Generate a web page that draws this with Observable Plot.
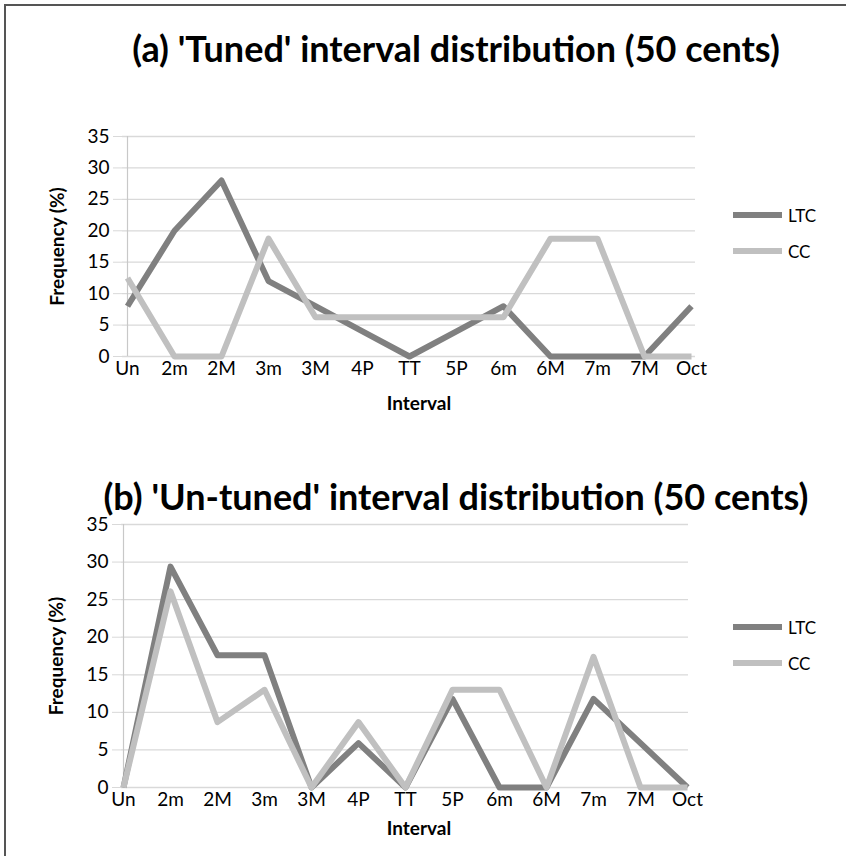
<!DOCTYPE html>
<html>
<head>
<meta charset="utf-8">
<script src="https://cdn.jsdelivr.net/npm/d3@7"></script>
<script src="https://cdn.jsdelivr.net/npm/@observablehq/plot@0.6"></script>
<style>
  html, body { margin: 0; padding: 0; background: #fff; }
  #page { position: relative; width: 846px; height: 856px; overflow: hidden; font-family: Lato, "Open Sans", sans-serif; }
  .frame { position: absolute; left: 4px; top: 4px; width: 850px; height: 860px; border-left: 2px solid #555; border-top: 2px solid #555; box-sizing: border-box; }
  .panel { position: absolute; left: 0; }
  .title { position: absolute; left: 0; width: 912px; text-align: center; font-weight: bold; font-size: 36px; line-height: 1; color: #000; white-space: nowrap; }
  .leg { position: absolute; font-size: 17px; color: #000; display: flex; align-items: center; }
  .sw { width: 49px; height: 6px; margin-right: 6px; }
</style>
</head>
<body>
<div id="page"></div>
<script>
const intervals = ["Un","2m","2M","3m","3M","4P","TT","5P","6m","6M","7m","7M","Oct"];
const series = ["LTC","CC"];
const seriesColors = ["#808080","#c0c0c0"];
const yTicks = [0,5,10,15,20,25,30,35];

const tunedLTC = [8,20,28,12,8,4,0,4,8,0,0,0,8];
const tunedCC = [12.5,0,0,18.75,6.25,6.25,6.25,6.25,6.25,18.75,18.75,0,0];
const untunedLTC = [0,29.4,17.6,17.6,0,5.9,0,11.8,0,0,11.8,5.9,0];
const untunedCC = [0,26.1,8.7,13.0,0,8.7,0,13.0,13.0,0,17.4,0,0];

const titles = ["(a) 'Tuned' interval distribution (50 cents)", "(b) 'Un-tuned' interval distribution (50 cents)"];
const xLabel = "Interval";
const yLabel = "Frequency (%)";

const page = document.getElementById("page");
const frame = document.createElement("div");
frame.className = "frame";
page.appendChild(frame);

function makePanel(ltc, cc, cfg) {
  const data = intervals.flatMap((k, i) => [
    {interval: k, series: series[0], value: ltc[i]},
    {interval: k, series: series[1], value: cc[i]}
  ]);
  return Plot.plot({
    width: 846,
    height: cfg.height,
    marginLeft: cfg.ml,
    marginRight: cfg.mr,
    marginTop: cfg.mt,
    marginBottom: cfg.mb,
    style: {fontFamily: "Lato, 'Open Sans', sans-serif", fontSize: "19px", color: "#000", background: "transparent", overflow: "visible"},
    x: {type: "point", domain: intervals, padding: 0},
    y: {domain: [0, 35]},
    color: {domain: series, range: seriesColors},
    marks: [
      Plot.gridY(yTicks, {stroke: "#d9d9d9", strokeOpacity: 1, strokeWidth: 1.3}),
      Plot.axisY(yTicks, {tickSize: 9, tickPadding: 4, stroke: "#d9d9d9", strokeOpacity: 1, label: null, fontSize: 19, fill: "#000"}),
      Plot.axisX(intervals, {tickSize: 0, tickPadding: 5, label: null, fontSize: 19, fill: "#000"}),
      Plot.ruleX([intervals[0]], {stroke: "#c8c8c8", strokeWidth: 1.2}),
      Plot.line(data, {x: "interval", y: "value", z: "series", stroke: "series", strokeWidth: 6, strokeLinejoin: "round", strokeLinecap: "butt"}),
      Plot.text([yLabel], {text: d => d, frameAnchor: "left", rotate: -90, dx: -65, textAnchor: "middle", lineAnchor: "middle", fontWeight: "bold", fontSize: 19, fill: "#000"}),
      Plot.text([xLabel], {text: d => d, frameAnchor: "bottom", dx: cfg.lx, dy: cfg.ly, textAnchor: "middle", lineAnchor: "middle", fontWeight: "bold", fontSize: 19, fill: "#000"})
    ]
  });
}

function addPanel(top, ltc, cc, cfg, titleText, titleY, legY) {
  const svg = makePanel(ltc, cc, cfg);
  const wrap = document.createElement("div");
  wrap.className = "panel";
  wrap.style.top = top + "px";
  wrap.appendChild(svg);
  page.appendChild(wrap);

  const t = document.createElement("div");
  t.className = "title";
  t.style.top = titleY + "px";
  t.textContent = titleText;
  page.appendChild(t);

  series.forEach((s, i) => {
    const l = document.createElement("div");
    l.className = "leg";
    l.style.left = "733px";
    l.style.top = (legY[i] - 10) + "px";
    l.style.height = "20px";
    const sw = document.createElement("div");
    sw.className = "sw";
    sw.style.background = seriesColors[i];
    const lab = document.createElement("span");
    lab.textContent = s;
    l.appendChild(sw);
    l.appendChild(lab);
    page.appendChild(l);
  });
}

addPanel(0, tunedLTC, tunedCC, {height: 420, ml: 122, mr: 151, mt: 136, mb: 64, lx: 10, ly: 47}, titles[0], 30, [215, 251]);
addPanel(420, untunedLTC, untunedCC, {height: 436, ml: 121, mr: 158, mt: 104, mb: 69, lx: 14, ly: 41}, titles[1], 478, [627, 663]);
</script>
</body>
</html>
